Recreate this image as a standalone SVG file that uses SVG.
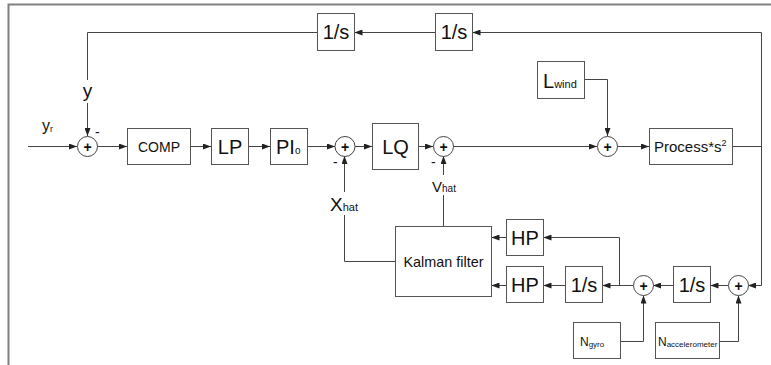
<svg xmlns="http://www.w3.org/2000/svg" width="771" height="365" viewBox="0 0 771 365">
<defs>
<marker id="ar" viewBox="0 0 8 6" refX="8" refY="3" markerWidth="8" markerHeight="6" markerUnits="userSpaceOnUse" orient="auto">
<path d="M0,0 L8,3 L0,6 z" fill="#222"/>
</marker>
</defs>
<style>
.box{fill:#fff;stroke:#555;stroke-width:1}
.sum{fill:#fff;stroke:#444;stroke-width:1}
.ln{fill:none;stroke:#444;stroke-width:1}
.arr{marker-end:url(#ar)}
.frame{fill:none;stroke:#808080;stroke-width:2}
text{font-family:"Liberation Sans",Arial,sans-serif;fill:#111}
.big{font-size:20px}
.mid{font-size:14px}
.c{text-anchor:middle}
.plus{font-size:14px;font-weight:bold;text-anchor:middle}
</style>
<rect width="771" height="365" fill="#fff"/>
<g id="frame">
<path class="frame" d="M8.5,365 V4.5 H771"/>
</g>
<g id="connectors">
<path class="ln arr" d="M28,146.5 H77"/>
<path class="ln arr" d="M97,146.5 H127"/>
<path class="ln arr" d="M190,146.5 H211"/>
<path class="ln arr" d="M248,146.5 H270"/>
<path class="ln arr" d="M307,146.5 H335"/>
<path class="ln arr" d="M355,146.5 H372"/>
<path class="ln arr" d="M418,146.5 H433"/>
<path class="ln arr" d="M453,146.5 H597"/>
<path class="ln arr" d="M617,146.5 H649"/>
<path class="ln" d="M732,146.5 H761.5"/>
<path class="ln" d="M761.5,32.5 V285.5"/>
<path class="ln arr" d="M761.5,32.5 H472.5"/>
<path class="ln arr" d="M435,32.5 H354.5"/>
<path class="ln" d="M317,32.5 H87.5 V80"/>
<path class="ln arr" d="M87.5,103 V136"/>
<path class="ln arr" d="M584,79.5 H607.5 V136"/>
<path class="ln" d="M395,261.5 H344.5 V215"/>
<path class="ln arr" d="M344.5,192 V156"/>
<path class="ln" d="M443.5,226 V195"/>
<path class="ln arr" d="M443.5,175 V156"/>
<path class="ln arr" d="M761.5,285.5 H748"/>
<path class="ln arr" d="M728,285.5 H710.5"/>
<path class="ln arr" d="M673,285.5 H653"/>
<path class="ln arr" d="M633,285.5 H602.5"/>
<path class="ln arr" d="M619.5,285.5 V237.5 H543.5"/>
<path class="ln arr" d="M565,285.5 H543.5"/>
<path class="ln arr" d="M506,237.5 H491.5"/>
<path class="ln arr" d="M506,285.5 H491.5"/>
<path class="ln arr" d="M620,341.5 H643.5 V295.5"/>
<path class="ln arr" d="M719,341.5 H738.5 V295.5"/>
</g>
<g id="sum1"><circle class="sum" cx="87.5" cy="146.5" r="10"/><text class="plus" x="87.5" y="151.5">+</text><text class="mid" x="95" y="137">-</text></g>
<g id="sum2"><circle class="sum" cx="345" cy="146.5" r="10"/><text class="plus" x="345" y="151.5">+</text><text class="mid" x="333" y="167">-</text></g>
<g id="sum3"><circle class="sum" cx="443.5" cy="146.5" r="10"/><text class="plus" x="443.5" y="151.5">+</text><text class="mid" x="431" y="167">-</text></g>
<g id="sum4"><circle class="sum" cx="607.5" cy="146.5" r="10"/><text class="plus" x="607.5" y="151.5">+</text></g>
<g id="sum5"><circle class="sum" cx="643.5" cy="285.5" r="10"/><text class="plus" x="643.5" y="290.5">+</text></g>
<g id="sum6"><circle class="sum" cx="738.5" cy="285.5" r="10"/><text class="plus" x="738.5" y="290.5">+</text></g>
<g id="label_y"><text x="87.5" y="97" class="c" style="font-size:19px">y</text></g>
<g id="label_yr"><text x="42" y="131" style="font-size:16px">y<tspan style="font-size:9px" dy="1">r</tspan></text></g>
<g id="label_xhat"><text x="330" y="211" style="font-size:19px">X<tspan style="font-size:11px">hat</tspan></text></g>
<g id="label_vhat"><text x="432" y="192" style="font-size:15px">V<tspan style="font-size:10px">hat</tspan></text></g>
<g id="integ_top1"><rect class="box" x="317.5" y="13.5" width="37" height="37"/><text class="big c" x="336" y="39">1/s</text></g>
<g id="integ_top2"><rect class="box" x="435.5" y="13.5" width="37" height="37"/><text class="big c" x="454" y="39">1/s</text></g>
<g id="comp"><rect class="box" x="127.5" y="128.5" width="63" height="36"/><text class="mid c" x="159" y="151.5">COMP</text></g>
<g id="lp"><rect class="box" x="211.5" y="128.5" width="37" height="36"/><text class="big c" x="230" y="153.5">LP</text></g>
<g id="pio"><rect class="box" x="270.5" y="128.5" width="37" height="36"/><text class="big" x="276" y="153.5">PI<tspan style="font-size:10px">o</tspan></text></g>
<g id="lq"><rect class="box" x="372.5" y="123.5" width="46" height="46"/><text class="big c" x="395.5" y="153.5">LQ</text></g>
<g id="lwind"><rect class="box" x="537.5" y="61.5" width="47" height="37"/><text class="big" x="543" y="87.5">L<tspan style="font-size:11px">wind</tspan></text></g>
<g id="process"><rect class="box" x="649.5" y="128.5" width="83" height="36"/><text x="654" y="151.5" style="font-size:15px">Process*s<tspan style="font-size:9px" dy="-6">2</tspan></text></g>
<g id="kalman"><rect class="box" x="395.5" y="226.5" width="96" height="70"/><text class="mid c" x="443.5" y="266.5" style="font-size:14.4px">Kalman filter</text></g>
<g id="hp1"><rect class="box" x="506.5" y="219.5" width="37" height="36"/><text class="big c" x="525" y="244.5">HP</text></g>
<g id="hp2"><rect class="box" x="506.5" y="266.5" width="37" height="36"/><text class="big c" x="525" y="291.5">HP</text></g>
<g id="integ_b1"><rect class="box" x="565.5" y="266.5" width="37" height="36"/><text class="big c" x="584" y="291.5">1/s</text></g>
<g id="integ_b2"><rect class="box" x="673.5" y="266.5" width="37" height="36"/><text class="big c" x="692" y="291.5">1/s</text></g>
<g id="ngyro"><rect class="box" x="573.5" y="322.5" width="47" height="36"/><text x="580" y="346" style="font-size:12px">N<tspan style="font-size:8px" dy="1">gyro</tspan></text></g>
<g id="nacc"><rect class="box" x="655.5" y="322.5" width="64" height="36"/><text x="658" y="346" style="font-size:12px">N<tspan style="font-size:8px" dy="1">accelerometer</tspan></text></g>
</svg>
